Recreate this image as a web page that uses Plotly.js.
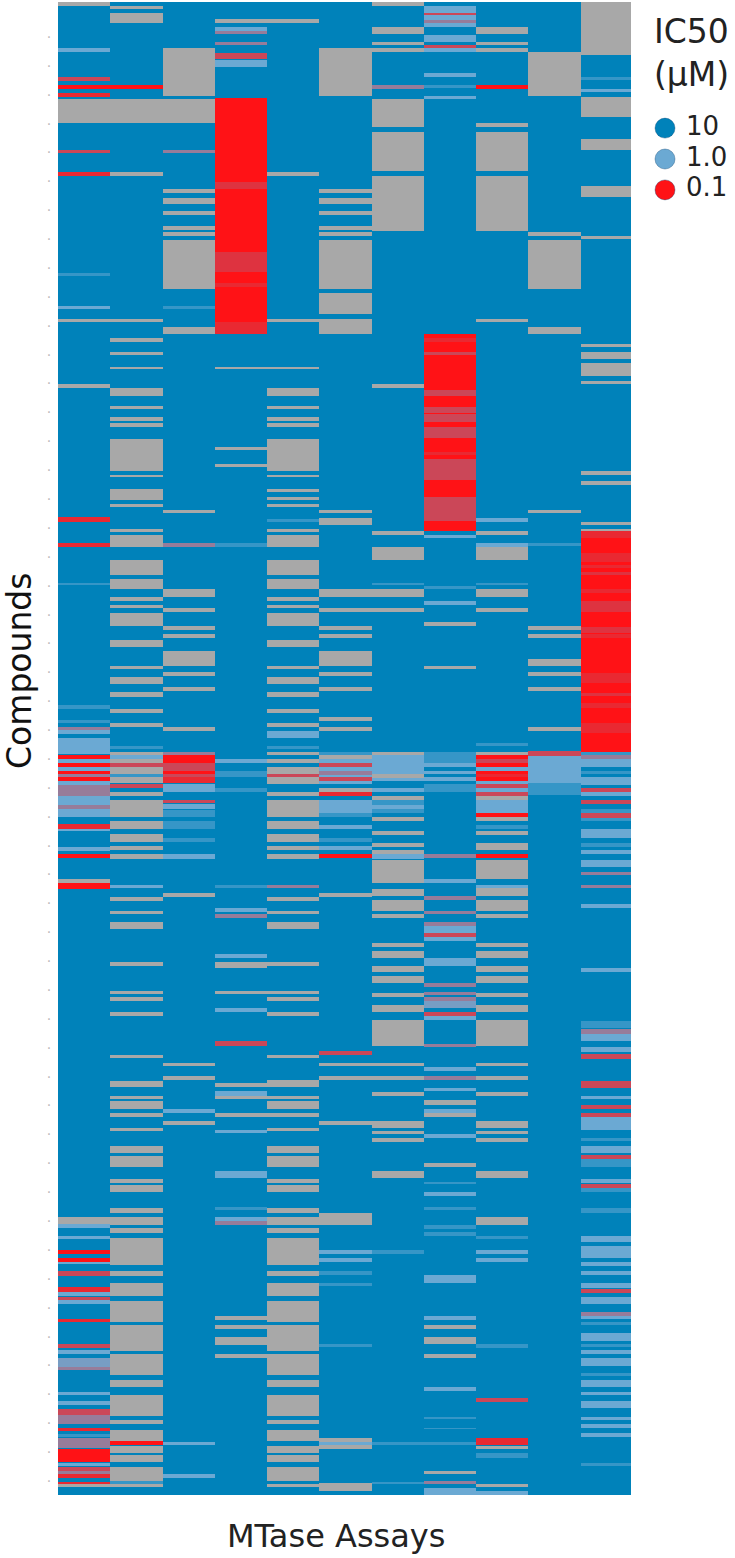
<!DOCTYPE html>
<html>
<head>
<meta charset="utf-8">
<script src="https://cdn.plot.ly/plotly-3.0.1.min.js"></script>
<style>html,body{margin:0;padding:0;background:#fff;}</style>
</head>
<body>
<div id="chart"></div>
<script>
// Activity codes (log10 IC50). NA = not tested, drawn grey.
const NA = null, R = -1, S = -0.85, T = -0.78, P = -0.65, M = -0.3, N = -0.08, L = 0, B = 0.5, BASE = 1;
const firstRow = 2, lastRow = 1495;

const assay1 = [[2,6,NA],[48,52,L],[77,81,P],[85,89,R],[93,97,S],[99,123,NA],[150,153,P],[172,176,S],[273,276,B],[306,309,L],[319,322,NA],[384,388,NA],[517,522,S],[543,547,S],[583,585,B],[705,709,B],[720,723,B],[727,730,M],[730,734,L],[738,751,L],[750,754,L],[755,759,R],[759,763,L],[763,767,R],[767,771,L],[771,774,R],[774,777,M],[777,781,R],[781,785,L],[785,796,M],[796,805,L],[805,809,M],[809,817,L],[824,829,S],[829,831,L],[847,851,L],[854,858,R],[879,883,NA],[883,889,R],[1217,1224,NA],[1224,1228,L],[1236,1239,L],[1250,1254,R],[1258,1262,R],[1262,1264,L],[1271,1276,P],[1287,1292,S],[1292,1296,L],[1297,1300,P],[1300,1304,L],[1319,1322,S],[1344,1348,P],[1350,1354,L],[1358,1367,N],[1367,1370,M],[1392,1395,L],[1401,1405,L],[1409,1415,P],[1415,1424,M],[1428,1431,S],[1434,1437,B],[1438,1448,M],[1449,1462,R],[1463,1466,L],[1467,1471,P],[1471,1474,M],[1474,1478,S],[1482,1484,S],[1484,1487,NA]];
const assay2 = [[6,9,NA],[13,23,NA],[85,89,R],[99,123,NA],[172,176,NA],[319,322,NA],[338,342,NA],[352,355,NA],[367,369,NA],[388,396,NA],[406,409,NA],[417,421,NA],[423,427,NA],[439,471,NA],[475,477,NA],[489,500,NA],[504,507,NA],[529,532,NA],[535,547,NA],[560,575,NA],[579,589,NA],[597,601,NA],[605,608,NA],[613,626,NA],[640,647,NA],[666,669,NA],[677,684,NA],[692,697,NA],[709,713,NA],[723,727,NA],[746,749,B],[752,755,NA],[755,759,L],[759,763,NA],[763,767,P],[767,774,NA],[774,777,B],[777,783,NA],[784,788,P],[792,796,NA],[800,817,NA],[821,829,NA],[834,842,NA],[846,850,NA],[854,859,NA],[885,888,L],[897,901,NA],[911,914,NA],[922,929,NA],[962,966,NA],[991,994,NA],[997,1001,NA],[1012,1016,NA],[1055,1058,NA],[1081,1087,NA],[1096,1099,NA],[1101,1109,NA],[1113,1117,NA],[1128,1131,NA],[1146,1153,NA],[1156,1167,NA],[1179,1183,NA],[1185,1192,NA],[1208,1213,NA],[1217,1225,NA],[1228,1233,NA],[1238,1265,NA],[1271,1276,NA],[1283,1296,NA],[1301,1322,NA],[1325,1351,NA],[1354,1375,NA],[1380,1387,NA],[1395,1416,NA],[1420,1424,NA],[1430,1441,NA],[1441,1445,R],[1446,1453,NA],[1455,1462,NA],[1467,1481,NA],[1481,1484,B],[1484,1487,NA]];
const assay3 = [[48,96,NA],[99,123,NA],[150,153,M],[189,193,NA],[198,204,NA],[211,215,NA],[226,230,NA],[232,236,NA],[240,289,NA],[306,309,B],[327,334,NA],[510,513,NA],[543,547,M],[589,597,NA],[608,612,NA],[626,630,NA],[634,638,NA],[651,666,NA],[672,676,NA],[687,691,NA],[727,731,NA],[752,755,M],[755,763,R],[763,771,P],[771,774,R],[774,777,P],[777,783,S],[784,792,L],[800,803,P],[804,809,L],[810,817,B],[821,829,B],[838,842,B],[854,859,L],[893,897,NA],[1063,1066,NA],[1076,1080,NA],[1109,1113,L],[1121,1125,NA],[1442,1445,L],[1474,1478,L]];
const assay4 = [[19,23,NA],[27,31,L],[31,34,M],[42,45,M],[53,59,P],[60,67,L],[98,334,R],[182,189,T],[252,272,T],[283,287,S],[322,334,S],[367,369,NA],[447,450,NA],[464,467,NA],[543,547,B],[759,763,L],[771,777,B],[788,792,B],[885,888,B],[908,912,L],[914,918,M],[954,958,L],[962,968,NA],[991,994,NA],[1008,1012,L],[1041,1046,P],[1083,1087,NA],[1091,1096,L],[1096,1099,NA],[1113,1117,NA],[1130,1133,L],[1171,1178,L],[1207,1210,B],[1217,1221,L],[1221,1225,M],[1316,1320,NA],[1325,1329,NA],[1337,1345,NA],[1354,1358,NA]];
const assay5 = [[19,23,NA],[172,176,NA],[319,322,NA],[367,369,NA],[388,396,NA],[406,409,NA],[417,421,NA],[423,427,NA],[439,471,NA],[475,477,NA],[489,492,NA],[497,500,NA],[504,507,NA],[519,522,B],[529,532,NA],[535,547,NA],[560,575,NA],[579,589,NA],[597,601,NA],[605,608,NA],[613,626,NA],[640,647,NA],[666,669,NA],[677,684,NA],[692,697,NA],[709,713,NA],[723,727,NA],[731,738,L],[746,749,B],[752,755,NA],[759,763,NA],[767,774,NA],[774,777,P],[777,784,NA],[792,796,NA],[800,817,NA],[821,829,NA],[834,842,NA],[846,850,NA],[854,859,NA],[885,888,M],[897,901,NA],[911,914,NA],[922,929,NA],[962,966,NA],[991,994,NA],[997,1001,NA],[1012,1016,NA],[1055,1058,NA],[1080,1087,NA],[1096,1099,NA],[1101,1109,NA],[1113,1117,NA],[1128,1131,NA],[1146,1153,NA],[1156,1167,NA],[1179,1183,NA],[1185,1192,NA],[1208,1213,NA],[1217,1225,NA],[1228,1233,NA],[1238,1265,NA],[1271,1276,NA],[1283,1296,NA],[1301,1322,NA],[1325,1351,NA],[1354,1375,NA],[1380,1387,NA],[1395,1416,NA],[1420,1424,NA],[1430,1441,NA],[1446,1453,NA],[1455,1462,NA],[1467,1481,NA],[1484,1487,NA]];
const assay6 = [[48,96,NA],[189,193,NA],[198,204,NA],[211,215,NA],[226,230,NA],[232,236,NA],[240,289,NA],[293,314,NA],[319,334,NA],[510,513,NA],[518,525,NA],[589,597,NA],[608,612,NA],[626,630,NA],[634,638,NA],[651,666,NA],[672,676,NA],[687,691,NA],[717,721,NA],[727,731,NA],[752,755,B],[755,759,NA],[759,763,L],[763,767,P],[767,771,L],[771,775,M],[775,777,L],[777,781,P],[781,784,L],[788,792,NA],[792,796,S],[800,813,L],[813,817,B],[825,829,L],[838,842,B],[846,850,L],[854,858,R],[893,897,NA],[1051,1055,P],[1063,1066,NA],[1076,1080,NA],[1121,1125,NA],[1213,1225,NA],[1250,1254,L],[1258,1262,L],[1271,1275,B],[1283,1286,B],[1344,1347,B],[1438,1449,NA],[1442,1445,L],[1483,1491,NA]];
const assay7 = [[2,6,NA],[27,34,NA],[42,45,NA],[48,52,NA],[85,89,M],[99,127,NA],[132,171,NA],[176,231,NA],[384,388,NA],[531,535,NA],[547,560,NA],[583,585,B],[589,597,NA],[608,612,NA],[752,755,NA],[755,774,L],[774,778,NA],[778,781,L],[788,792,L],[796,800,NA],[800,805,B],[805,809,L],[809,813,B],[817,821,NA],[831,835,NA],[843,847,NA],[850,854,NA],[854,859,L],[860,883,NA],[889,896,NA],[900,911,NA],[914,918,NA],[943,947,NA],[951,958,NA],[966,972,NA],[976,983,NA],[993,997,NA],[1005,1012,NA],[1020,1046,NA],[1063,1066,NA],[1076,1080,NA],[1092,1096,NA],[1121,1128,NA],[1131,1134,NA],[1138,1142,NA],[1171,1178,NA],[1250,1254,B],[1442,1445,B],[1482,1484,B]];
const assay8 = [[6,27,L],[13,15,P],[20,23,M],[35,42,L],[45,48,P],[48,52,L],[73,77,L],[85,88,B],[96,99,L],[334,531,R],[338,342,S],[352,355,P],[390,396,P],[407,413,P],[414,422,P],[427,438,P],[452,455,S],[459,480,P],[497,521,P],[535,538,L],[586,589,B],[601,605,L],[622,626,NA],[666,669,NA],[752,763,B],[763,767,L],[771,774,L],[777,781,L],[784,792,B],[854,858,M],[879,883,L],[896,900,M],[911,914,M],[922,926,M],[926,933,L],[933,937,P],[937,941,L],[958,966,L],[983,987,M],[992,995,M],[997,1001,M],[1001,1008,N],[1012,1016,P],[1016,1020,L],[1044,1047,M],[1067,1071,L],[1076,1080,M],[1088,1091,L],[1100,1105,NA],[1109,1113,L],[1113,1117,NA],[1134,1138,L],[1163,1167,NA],[1182,1184,B],[1192,1196,L],[1207,1210,B],[1225,1229,B],[1232,1236,B],[1275,1283,L],[1316,1320,L],[1325,1329,NA],[1337,1344,NA],[1354,1358,NA],[1387,1391,L],[1417,1419,B],[1428,1429,B],[1442,1445,B],[1471,1474,NA],[1481,1484,M],[1488,1495,L]];
const assay9 = [[27,34,NA],[42,45,NA],[48,52,NA],[85,89,R],[123,127,NA],[132,171,NA],[176,231,NA],[319,322,NA],[518,522,L],[531,535,NA],[543,547,L],[547,560,NA],[583,585,B],[589,597,NA],[608,612,NA],[743,746,B],[752,755,NA],[755,759,R],[759,763,P],[763,767,R],[767,771,L],[771,774,R],[774,777,S],[777,781,R],[781,784,L],[784,788,P],[788,792,L],[792,796,P],[796,800,NA],[800,813,L],[813,817,R],[817,821,NA],[825,829,B],[831,835,NA],[843,850,NA],[854,858,R],[860,879,NA],[885,888,L],[888,896,NA],[900,911,NA],[914,918,NA],[943,947,NA],[951,958,NA],[966,972,NA],[976,983,NA],[993,997,NA],[1005,1012,NA],[1020,1046,NA],[1063,1066,NA],[1076,1080,NA],[1092,1096,NA],[1121,1128,NA],[1131,1134,NA],[1138,1142,NA],[1171,1178,NA],[1217,1225,NA],[1236,1239,B],[1250,1254,L],[1258,1262,L],[1344,1348,B],[1398,1402,P],[1438,1445,S],[1446,1449,NA],[1453,1458,B],[1484,1487,NA],[1491,1495,L]];
const assay10 = [[52,96,NA],[232,236,NA],[240,289,NA],[327,334,NA],[510,513,NA],[543,546,B],[626,630,NA],[634,638,NA],[659,666,NA],[672,676,NA],[687,691,NA],[727,731,NA],[751,756,P],[756,783,L],[783,795,B]];
const assay11 = [[2,55,NA],[77,80,B],[89,92,L],[97,117,NA],[139,150,NA],[186,197,NA],[236,239,NA],[344,347,NA],[352,359,NA],[363,376,NA],[381,384,NA],[471,475,NA],[481,485,NA],[522,525,NA],[529,531,NA],[531,752,R],[531,538,S],[553,562,S],[565,568,S],[572,575,T],[589,593,S],[601,612,T],[627,633,T],[634,638,S],[673,683,S],[693,696,T],[703,708,S],[723,733,S],[752,755,B],[755,759,M],[759,763,L],[763,767,L],[771,774,B],[777,785,L],[788,792,P],[792,796,L],[800,804,P],[809,813,B],[813,818,P],[818,821,B],[829,838,L],[843,847,B],[850,854,L],[860,867,L],[872,875,M],[885,888,M],[904,908,L],[968,972,L],[1021,1028,B],[1029,1034,M],[1034,1041,L],[1047,1052,L],[1054,1059,P],[1081,1088,P],[1096,1099,L],[1105,1109,P],[1113,1117,P],[1117,1130,L],[1138,1141,B],[1146,1153,L],[1155,1159,P],[1159,1167,B],[1179,1183,L],[1184,1188,P],[1188,1192,B],[1208,1213,B],[1236,1242,L],[1246,1258,L],[1262,1266,L],[1271,1275,L],[1283,1288,L],[1289,1293,P],[1297,1304,L],[1312,1316,M],[1316,1319,L],[1322,1325,B],[1333,1341,L],[1344,1347,B],[1350,1354,L],[1358,1366,L],[1373,1376,B],[1380,1387,L],[1392,1395,L],[1401,1408,L],[1417,1420,L],[1424,1428,L],[1433,1437,L],[1463,1466,B]];
const assays = [assay1, assay2, assay3, assay4, assay5, assay6, assay7, assay8, assay9, assay10, assay11];

const legendTitle = "IC50<br>(µM)";
const legendLabels = ["10", "1.0", "0.1"];
const legendValues = [1, 0, -1];
const xTitle = "MTase Assays";
const yTitle = "Compounds";

const COL_RED = "#ff1216", COL_LIGHT = "#6ba9d3", COL_BLUE = "#0082ba", COL_GREY = "#a8a8a8";
const FONT = "DejaVu Sans, Verdana, sans-serif";
const W = 735, H = 1558;

// Expand each assay's runs of compounds into the heatmap grid.
const nRows = lastRow - firstRow;
const z = [];
for (let r = 0; r < nRows; r++) z.push(new Array(assays.length).fill(BASE));
assays.forEach((runs, c) => {
  runs.forEach(([a, b, v]) => {
    for (let y = a; y < b; y++) {
      const r = y - firstRow;
      if (r >= 0 && r < nRows) z[r][c] = v;
    }
  });
});

const colorscale = [[0, COL_RED], [0.5, COL_LIGHT], [1, COL_BLUE]];

const tickRows = [], tickText = [];
for (let i = 0; i <= 50; i++) { tickRows.push(37 + i * 28.88); tickText.push("·"); }

const heat = {
  type: "heatmap", z: z, x0: 0, dx: 1, y0: firstRow + 0.5, dy: 1,
  zmin: -1, zmax: 1, colorscale: colorscale, showscale: false,
  zsmooth: false, hoverongaps: false
};
const keyMarks = {
  type: "scatter", mode: "markers", xaxis: "x2", yaxis: "y2", showlegend: false,
  x: legendLabels.map(() => 15), y: legendLabels,
  marker: {size: 20, color: legendValues, cmin: -1, cmax: 1, colorscale: colorscale,
           line: {width: 1, color: "rgba(0,60,110,0.35)"}}
};
const keyText = {
  type: "scatter", mode: "text", xaxis: "x2", yaxis: "y2", showlegend: false,
  x: legendLabels.map(() => 36), y: legendLabels, text: legendLabels,
  textposition: "middle right", textfont: {family: FONT, size: 26, color: "#222"}
};

const layout = {
  width: W, height: H, margin: {l: 0, r: 0, t: 0, b: 0},
  paper_bgcolor: "#fff", plot_bgcolor: "rgba(0,0,0,0)", showlegend: false,
  xaxis: {domain: [58 / W, 631 / W], range: [-0.5, 10.46], showticklabels: false, ticks: "", showgrid: false, zeroline: false, showline: false},
  yaxis: {domain: [1 - lastRow / H, 1 - firstRow / H], range: [lastRow, firstRow], tickmode: "array", tickvals: tickRows, ticktext: tickText,
          ticks: "outside", ticklen: 3, tickcolor: "rgba(0,0,0,0)", tickfont: {family: FONT, size: 14, color: "#bbb"}, showgrid: false, zeroline: false, showline: false},
  xaxis2: {domain: [650 / W, 1], range: [0, 85], visible: false, anchor: "y2"},
  yaxis2: {domain: [1 - 211.5 / H, 1 - 106.5 / H], type: "category", categoryorder: "array", categoryarray: legendLabels.slice().reverse(), visible: false, anchor: "x2", range: [-0.7, 2.7]},
  shapes: [{type: "rect", layer: "below", xref: "x domain", yref: "y domain", x0: 0, x1: 1, y0: 0, y1: 1, fillcolor: COL_GREY, line: {width: 0}}],
  annotations: [
    {text: xTitle, xref: "paper", yref: "paper", x: 336 / W, y: 1 - 1536 / H, xanchor: "center", yanchor: "middle", showarrow: false, font: {family: FONT, size: 32, color: "#222"}},
    {text: yTitle, xref: "paper", yref: "paper", x: 19 / W, y: 1 - 671 / H, xanchor: "center", yanchor: "middle", textangle: -90, showarrow: false, font: {family: FONT, size: 33, color: "#111"}},
    {text: legendTitle, xref: "paper", yref: "paper", x: 652 / W, y: 1 - 53 / H, xanchor: "left", yanchor: "middle", align: "left", showarrow: false, font: {family: FONT, size: 33, color: "#222"}}
  ]
};

Plotly.newPlot("chart", [heat, keyMarks, keyText], layout, {displayModeBar: false, staticPlot: true});
</script>
</body>
</html>
